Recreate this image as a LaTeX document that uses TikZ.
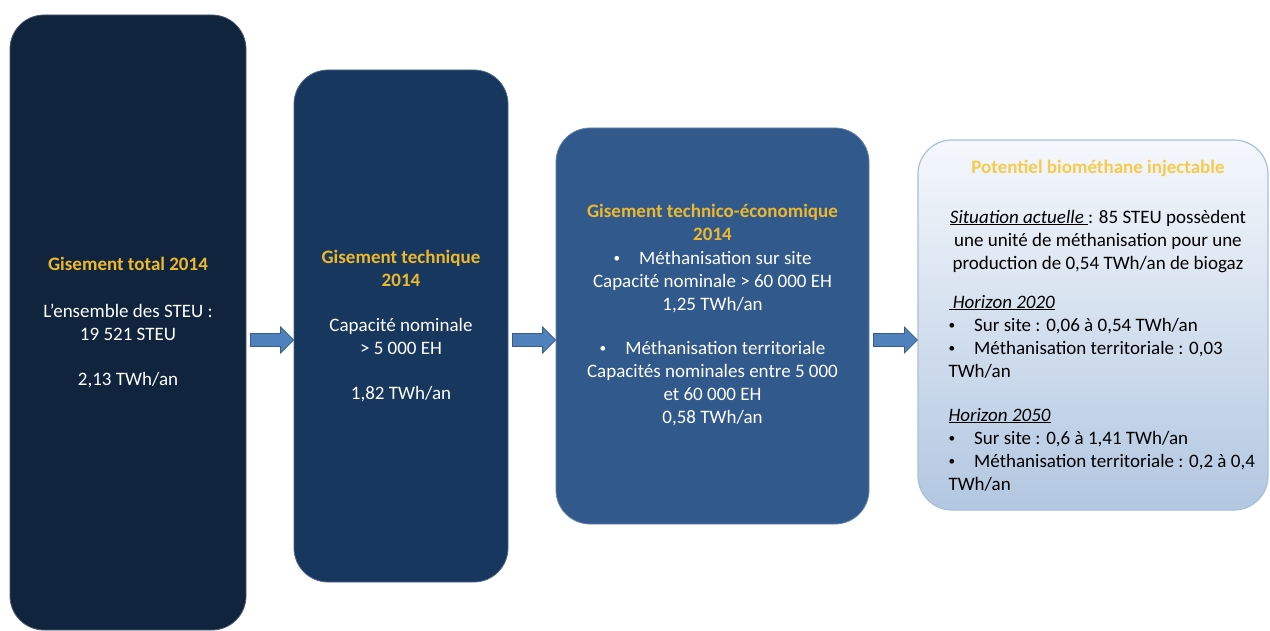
\documentclass[tikz,border=0pt]{standalone}
\usepackage{fontspec}
\setmainfont{Carlito}
\usetikzlibrary{calc}
\usetikzlibrary{positioning}

\definecolor{navyA}{HTML}{10243E}
\definecolor{navyB}{HTML}{17375E}
\definecolor{navyC}{HTML}{31598C}
\definecolor{paleTop}{HTML}{F5F8FC}
\definecolor{paleBot}{HTML}{B2C7E1}
\definecolor{paleEdge}{HTML}{A9BFDB}
\definecolor{arrowFill}{HTML}{4F81BD}
\definecolor{arrowEdge}{HTML}{385D8A}
\definecolor{gold}{HTML}{EDB92A}
\definecolor{goldPale}{HTML}{F6CB4C}

\newcommand{\titre}[1]{{\bfseries\color{gold}#1}}
\newcommand{\puce}{\raisebox{1.5pt}{\scalebox{0.7}{\textbullet}}\hspace{19pt}}

\tikzset{
  txt/.style={align=center, font=\fontsize{19}{23}\selectfont},
  box/.style={txt, rectangle, rounded corners=34pt, draw=#1!75!white, fill=#1, line width=0.8pt, text=white},
  palebox/.style={rectangle, rounded corners=34pt, draw=paleEdge, line width=1.2pt, top color=paleTop, bottom color=paleBot},
  blockarrow/.style={fill=arrowFill, draw=arrowEdge, line width=0.8pt,
    to path={let \p1=(\tikztostart), \p2=(\tikztotarget) in
      (\x1+4pt,\y1+6.5pt) -- (\x2-13pt,\y1+6.5pt) -- (\x2-13pt,\y1+13pt) -- (\x2,\y1)
      -- (\x2-13pt,\y1-13pt) -- (\x2-13pt,\y1-6.5pt) -- (\x1+4pt,\y1-6.5pt) -- cycle}}
}

\begin{document}
\begin{tikzpicture}[x=1pt,y=-1pt]
  \useasboundingbox (0,0) rectangle (1270,631);

  % the three dark boxes
  \node[box=navyA, minimum width=236pt, minimum height=615pt] (box1) at (128,322.5)
    {\titre{Gisement total 2014}\\[24pt]
     L’ensemble des STEU :\\19 521 STEU\\[22pt]
     2,13 TWh/an};
  \node[box=navyB, minimum width=214pt, minimum height=512pt] (box2) at (401,326)
    {\titre{Gisement technique}\\\titre{2014}\\[22pt]
     Capacité nominale\\> 5 000 EH\\[22pt]
     1,82 TWh/an};
  \node[box=navyC, minimum width=313pt, minimum height=396pt] (box3) at (712.5,326) {};
  \node[txt, text=white] (tech) at (712.5,315)
    {\titre{Gisement technico-économique}\\\titre{2014}\\[1pt]
     \puce Méthanisation sur site\\
     Capacité nominale > 60 000 EH\\
     1,25 TWh/an\\[21pt]
     \puce Méthanisation territoriale\\
     Capacités nominales entre 5 000\\
     et 60 000 EH\\
     0,58 TWh/an};

  % pale box with the injectable potential
  \node[palebox, minimum width=350pt, minimum height=370pt] (box4) at (1093,325) {};
  \node[txt] (sit) at (1098,216)
    {{\bfseries\color{goldPale}Potentiel biométhane injectable}\\[27pt]
     \underline{\textit{Situation actuelle}\ }: 85 STEU possèdent\\
     une unité de méthanisation pour une\\
     production de 0,54 TWh/an de biogaz};
  \node[txt, align=left, anchor=west] (hor) at (945,393)
    {\underline{\ \textit{Horizon 2020}}\\
     \puce Sur site : 0,06 à 0,54 TWh/an\\
     \puce Méthanisation territoriale : 0,03\\
     TWh/an\\[21pt]
     \underline{\textit{Horizon 2050}}\\
     \puce Sur site : 0,6 à 1,41 TWh/an\\
     \puce Méthanisation territoriale : 0,2 à 0,4\\
     TWh/an};

  % block arrows between the boxes
  \coordinate (mid) at (0,340);
  \draw[blockarrow] (box1.east |- mid) to (box2.west |- mid);
  \draw[blockarrow] (box2.east |- mid) to (box3.west |- mid);
  \draw[blockarrow] (box3.east |- mid) to (box4.west |- mid);
\end{tikzpicture}
\end{document}
